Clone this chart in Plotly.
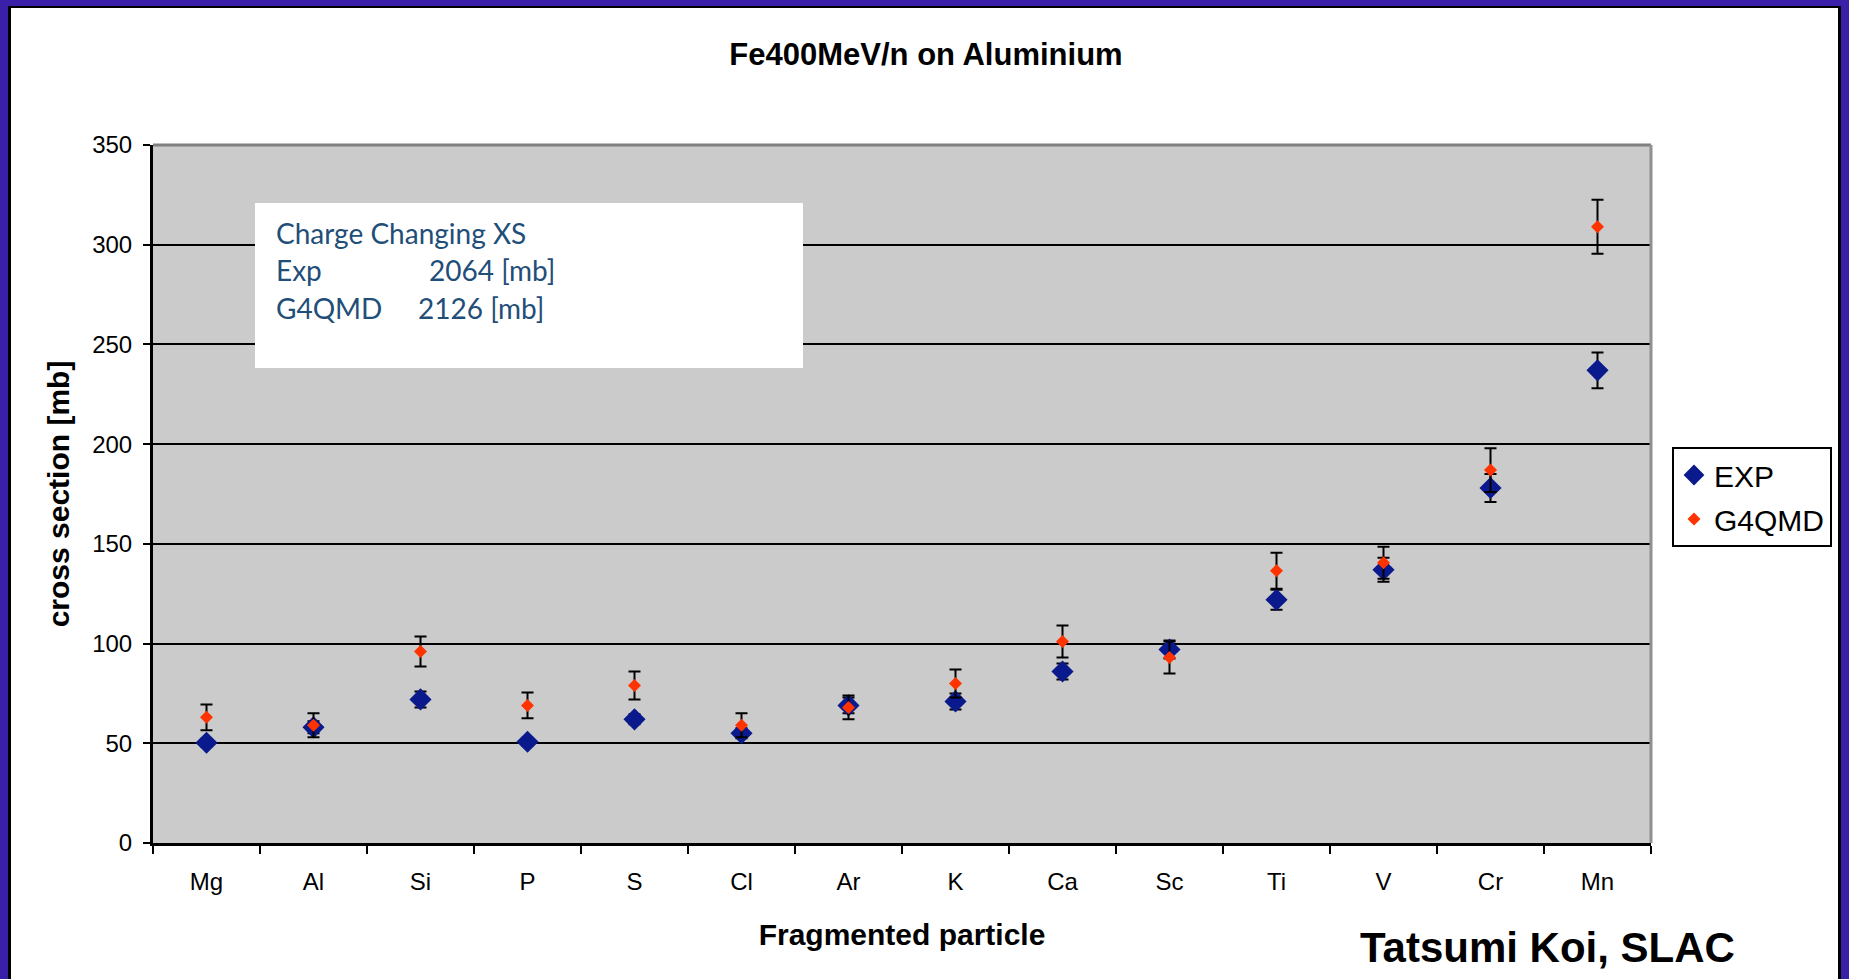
import plotly.graph_objects as go

# Fragment charges from Fe 400 MeV/n on Al
elements = ["Mg", "Al", "Si", "P", "S", "Cl", "Ar", "K", "Ca", "Sc", "Ti", "V", "Cr", "Mn"]
exp_xs = [50.3, 58, 72, 50.8, 62, 55, 69, 71, 86, 97, 122, 137, 178, 237]
exp_err = [2, 3, 4, 2, 2.5, 2.5, 4, 4, 4, 4.5, 5, 6, 7, 9]
qmd_xs = [63, 59, 96, 69, 79, 59, 68, 80, 101, 93, 136.5, 140.5, 187, 309]
qmd_err = [6.5, 6, 7.5, 6.5, 7, 6, 6, 7, 8, 8, 9, 8, 11, 13.5]

y_ticks = [0, 50, 100, 150, 200, 250, 300, 350]

W, H = 1849, 979
L, R, T, B = 153, 1651, 145, 843          # plot-area edges in page pixels


def px_x(p):
    return (p - L) / (R - L)


def px_y(p):
    return (B - p) / (B - T)


ARIAL = "Arial, Liberation Sans, sans-serif"
NAVY = "#0A1A8C"
RED = "#FF3300"
PURPLE = "#3A1FA8"
BOX_TEXT = "#1F4E79"

fig = go.Figure()

fig.add_trace(go.Scatter(
    x=elements, y=exp_xs, name="EXP", mode="markers", legendgroup="exp",
    marker=dict(symbol="diamond", size=17, color=NAVY, line=dict(width=0)),
    error_y=dict(type="data", array=exp_err, color="black", thickness=2, width=6),
))
fig.add_trace(go.Scatter(
    x=elements, y=qmd_xs, name="G4QMD", mode="markers", legendgroup="qmd",
    marker=dict(symbol="diamond", size=10, color=RED, line=dict(width=0)),
    error_y=dict(type="data", array=qmd_err, color="black", thickness=2, width=6),
))

shapes = []
# slide frame: purple band with a dark inner rule on the left, top and right
frame = [
    (0, 0, 8, H, PURPLE), (8, 6, 11, H, "black"),
    (0, 0, W, 6, PURPLE), (8, 6, 1841, 8, "black"),
    (1841, 0, W, H, PURPLE), (1838, 6, 1841, H, "black"),
]
for x0, y0, x1, y1, c in frame:
    shapes.append(dict(type="rect", xref="paper", yref="paper",
                       x0=px_x(x0), x1=px_x(x1), y0=px_y(y0), y1=px_y(y1),
                       fillcolor=c, line=dict(width=0), layer="above"))
# grey plot-area border on top and right
shapes.append(dict(type="line", xref="paper", yref="paper", x0=0, x1=1, y0=1, y1=1,
                   line=dict(color="#808080", width=3), layer="above"))
shapes.append(dict(type="line", xref="paper", yref="paper", x0=1, x1=1, y0=0, y1=1,
                   line=dict(color="#909090", width=3), layer="above"))
# white note box
shapes.append(dict(type="rect", xref="paper", yref="paper",
                   x0=px_x(255), x1=px_x(803), y0=px_y(368), y1=px_y(203),
                   fillcolor="white", line=dict(width=0), layer="above"))

note_font = dict(family="Lato, Noto Sans, sans-serif", size=28, color=BOX_TEXT)
annotations = [
    dict(text="Charge Changing XS", x=px_x(274), y=px_y(233)),
    dict(text="Exp", x=px_x(274), y=px_y(270)),
    dict(text="2064 [mb]", x=px_x(427), y=px_y(270)),
    dict(text="G4QMD", x=px_x(274), y=px_y(308)),
    dict(text="2126 [mb]", x=px_x(416), y=px_y(308)),
]
for a in annotations:
    a.update(xref="paper", yref="paper", xanchor="left", yanchor="middle",
             showarrow=False, font=note_font)
annotations.append(dict(
    text="Tatsumi Koi, SLAC", xref="paper", yref="paper",
    x=px_x(1547), y=px_y(947), xanchor="center", yanchor="middle", showarrow=False,
    font=dict(family=ARIAL, size=42, color="black", weight="bold"),
))

fig.update_layout(
    width=W, height=H, autosize=False,
    margin=dict(l=L, r=W - R, t=T, b=H - B, pad=0),
    paper_bgcolor="white", plot_bgcolor="#CBCBCB",
    font=dict(family=ARIAL, color="black"),
    title=dict(text="Fe400MeV/n on Aluminium", x=926 / W, xref="container", xanchor="center",
               y=1 - 54 / H, yref="container", yanchor="middle",
               font=dict(family=ARIAL, size=31, color="black", weight="bold")),
    xaxis=dict(type="category", range=[-0.5, 13.5], tickson="boundaries",
               ticks="outside", ticklen=8, tickwidth=2, tickcolor="black",
               showgrid=False, showline=True, linecolor="black", linewidth=3,
               tickfont=dict(size=24, color="black"), ticklabelstandoff=15,
               title=dict(text="Fragmented particle", standoff=31,
                          font=dict(size=30, color="black", weight="bold")),
               zeroline=False),
    yaxis=dict(range=[0, 350], tickvals=y_ticks, ticks="outside", ticklen=7, tickwidth=2,
               tickcolor="black", showgrid=True, gridcolor="black", gridwidth=2,
               showline=True, linecolor="black", linewidth=3, zeroline=False,
               tickfont=dict(size=24, color="black"), ticklabelstandoff=6,
               title=dict(text="cross section [mb]", standoff=14,
                          font=dict(size=30, color="black", weight="bold"))),
    legend=dict(x=px_x(1672), y=px_y(447), xanchor="left", yanchor="top",
                bgcolor="white", bordercolor="black", borderwidth=2,
                font=dict(family=ARIAL, size=30, color="black"),
                tracegroupgap=2, itemsizing="trace"),
    shapes=shapes,
    annotations=annotations,
)

fig.write_html("out.html")
